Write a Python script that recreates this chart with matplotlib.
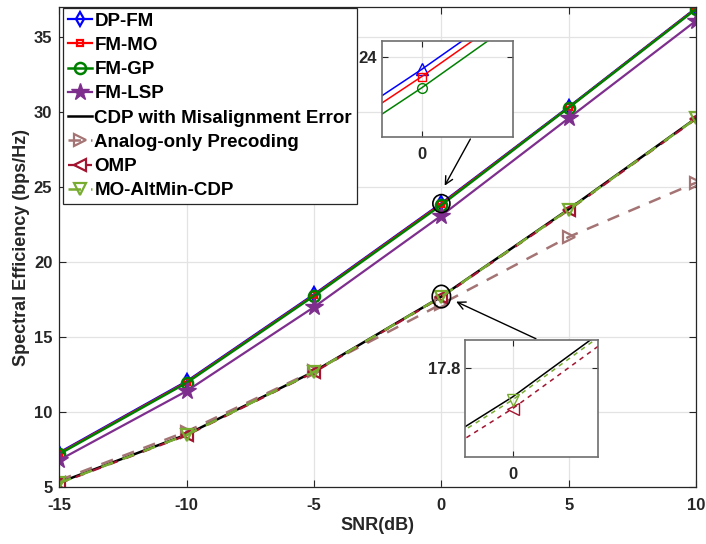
import matplotlib
matplotlib.use("Agg")
import matplotlib.pyplot as plt
from matplotlib.patches import Ellipse

plt.rcParams['font.family'] = ['Liberation Sans', 'DejaVu Sans']
plt.rcParams['font.weight'] = 'bold'
plt.rcParams['axes.unicode_minus'] = False

snr = [-15, -10, -5, 0, 5, 10]
dp_fm = [7.3, 12.05, 17.85, 23.925, 30.35, 36.95]
fm_mo = [7.25, 12.0, 17.8, 23.88, 30.32, 36.92]
fm_gp = [7.2, 11.95, 17.75, 23.81, 30.3, 36.88]
fm_lsp = [6.8, 11.4, 17.0, 23.1, 29.6, 36.1]
cdp_mis = [5.3, 8.5, 12.7, 17.70, 23.53, 29.6]
analog = [5.45, 8.7, 12.75, 17.2, 21.68, 25.3]
omp = [5.25, 8.45, 12.65, 17.66, 23.47, 29.55]
mo_altmin = [5.27, 8.48, 12.68, 17.69, 23.5, 29.58]

labels = ['DP-FM', 'FM-MO', 'FM-GP', 'FM-LSP', 'CDP with Misalignment Error',
          'Analog-only Precoding', 'OMP', 'MO-AltMin-CDP']

c_blue = '#0000FF'
c_red = '#FF0000'
c_green = '#008000'
c_purple = '#7E2F8E'
c_black = '#000000'
c_brown = '#A47474'
c_omp = '#A2142F'
c_alt = '#77AC30'

series = [
    (dp_fm, dict(color=c_blue, marker='d', ls='-', ms=7, mfc='none', mew=1.6, lw=1.6)),
    (fm_mo, dict(color=c_red, marker='s', ls='-', ms=5, mfc='none', mew=1.6, lw=1.6)),
    (fm_gp, dict(color=c_green, marker='o', ls='-', ms=8, mfc='none', mew=1.8, lw=1.8)),
    (fm_lsp, dict(color=c_purple, marker='*', ls='-', ms=13, mfc=c_purple, mew=1.0, lw=1.6)),
    (cdp_mis, dict(color=c_black, ls='-', lw=1.8)),
    (analog, dict(color=c_brown, marker='>', ls=(0, (5, 4)), ms=8, mfc='none', mew=1.6, lw=1.8)),
    (omp, dict(color=c_omp, marker='<', ls=(0, (4, 4)), ms=8, mfc='none', mew=1.6, lw=1.6)),
    (mo_altmin, dict(color=c_alt, marker='v', ls=(0, (5, 4)), ms=8, mfc='none', mew=1.6, lw=1.8)),
]

fig = plt.figure(figsize=(7.06, 5.44), dpi=100)
ax = fig.add_axes([0.084, 0.1048, 0.902, 0.882])

for (ys, st), lab in zip(series, labels):
    ax.plot(snr, ys, label=lab, **st)

ax.set_xlim(-15, 10)
ax.set_ylim(5, 37)
ax.set_xticks([-15, -10, -5, 0, 5, 10])
ax.set_yticks([5, 10, 15, 20, 25, 30, 35])
ax.grid(True, color='#e3e3e3', lw=0.9)
ax.set_axisbelow(True)
ax.tick_params(direction='in', top=True, right=True, labelsize=12, length=5, colors='#262626')
ax.tick_params(axis='x', pad=8)
ax.tick_params(axis='y', pad=5)
for lab in ax.get_xticklabels() + ax.get_yticklabels():
    lab.set_fontweight('bold')
for sp in ax.spines.values():
    sp.set_color('#262626')
    sp.set_linewidth(0.9)
ax.set_xlabel('SNR(dB)', fontsize=13, fontweight='bold', color='#262626', labelpad=3)
ax.set_ylabel('Spectral Efficiency (bps/Hz)', fontsize=13, fontweight='bold', color='#262626', labelpad=3)

leg = ax.legend(loc='upper left', bbox_to_anchor=(0.006, 0.9985), fontsize=13.5,
                frameon=True, fancybox=False, framealpha=1, edgecolor='#262626',
                handlelength=1.3, handletextpad=0.12, labelspacing=0.38,
                borderpad=0.25, borderaxespad=0.0)
leg.get_frame().set_linewidth(0.9)
for t in leg.get_texts():
    t.set_fontweight('bold')

# ellipses
ax.add_patch(Ellipse((0.0, 23.9), 0.67, 1.2, fill=False, ec='black', lw=1.2, zorder=5))
ax.add_patch(Ellipse((0.0, 17.7), 0.72, 1.5, fill=False, ec='black', lw=1.2, zorder=5))

# arrows
ax.annotate('', xy=(0.076, 24.93), xytext=(1.19, 28.37),
            arrowprops=dict(arrowstyle='->', color='black', lw=1.0, mutation_scale=14))
ax.annotate('', xy=(0.48, 17.44), xytext=(3.81, 14.81),
            arrowprops=dict(arrowstyle='->', color='black', lw=1.0, mutation_scale=14))


def make_inset(rect, xlim, ylim, xt, yt, data):
    ia = fig.add_axes(rect)
    ia.set_facecolor('white')
    for ys, st in data:
        ia.plot(snr, ys, **st)
    ia.set_xlim(*xlim)
    ia.set_ylim(*ylim)
    ia.set_xticks(xt)
    ia.set_yticks(yt)
    ia.grid(True, color='#e3e3e3', lw=0.9)
    ia.set_axisbelow(True)
    ia.tick_params(direction='in', top=True, right=True, labelsize=12, length=4, colors='#262626')
    ia.tick_params(axis='x', pad=7)
    for lab in ia.get_xticklabels() + ia.get_yticklabels():
        lab.set_fontweight('bold')
    for sp in ia.spines.values():
        sp.set_color('#6e6e6e')
        sp.set_linewidth(1.2)
    return ia


in1 = [
    (dp_fm, dict(color=c_blue, marker='^', ls='-', ms=8, mfc='none', mew=1.0, lw=1.1)),
    (fm_mo, dict(color=c_red, marker='s', ls='-', ms=6, mfc='none', mew=1.0, lw=1.1)),
    (fm_gp, dict(color=c_green, marker='o', ls='-', ms=7, mfc='none', mew=1.0, lw=1.1)),
]
make_inset([0.5407, 0.748, 0.186, 0.177], (-0.136, 0.311), (23.503, 24.103), [0], [24], in1)

in2 = [
    (cdp_mis, dict(color=c_black, ls='-', lw=1.1)),
    (omp, dict(color=c_omp, marker='<', ls=(0, (3, 3)), ms=8, mfc='none', mew=1.0, lw=1.1)),
    (mo_altmin, dict(color=c_alt, marker='v', ls=(0, (3, 3)), ms=8, mfc='none', mew=1.0, lw=1.1)),
]
make_inset([0.6586, 0.1594, 0.188, 0.2156], (-0.102, 0.182), (17.494, 17.894), [0], [17.8], in2)

fig.savefig('out.png', dpi=100)
